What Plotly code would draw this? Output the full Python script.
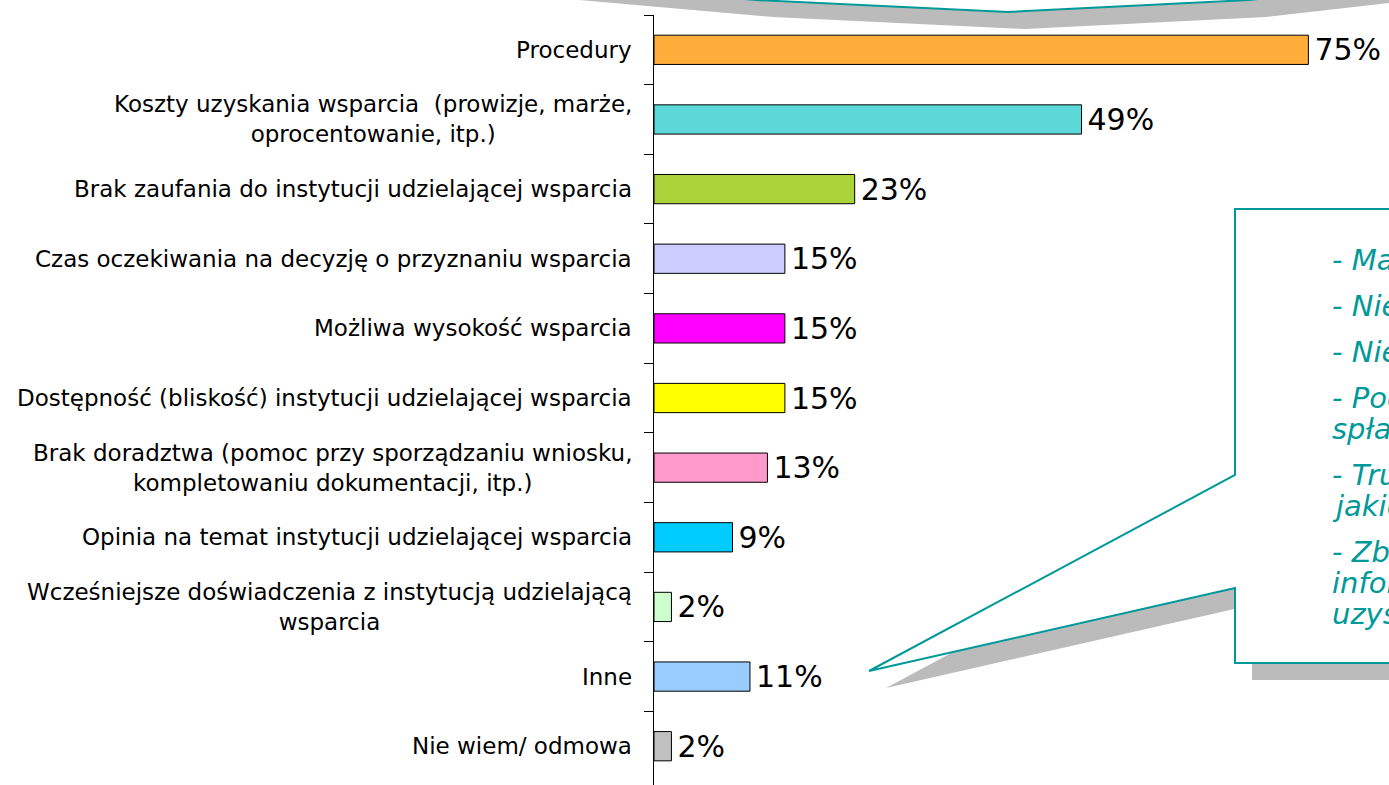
import plotly.graph_objects as go

categories = [
    "Procedury",
    "Koszty uzyskania wsparcia  (prowizje, marże,<br>oprocentowanie, itp.)",
    "Brak zaufania do instytucji udzielającej wsparcia",
    "Czas oczekiwania na decyzję o przyznaniu wsparcia",
    "Możliwa wysokość wsparcia",
    "Dostępność (bliskość) instytucji udzielającej wsparcia",
    "Brak doradztwa (pomoc przy sporządzaniu wniosku,<br>kompletowaniu dokumentacji, itp.)",
    "Opinia na temat instytucji udzielającej wsparcia",
    "Wcześniejsze doświadczenia z instytucją udzielającą<br>wsparcia",
    "Inne",
    "Nie wiem/ odmowa",
]
values = [75, 49, 23, 15, 15, 15, 13, 9, 2, 11, 2]
colors = ["#FFAD3A", "#5DD8D8", "#AAD43A", "#CCCCFF", "#FF00FF", "#FFFF00",
          "#FF99CC", "#00CCFF", "#CCFFCC", "#99CCFF", "#C0C0C0"]

callout_lines = [
    "- Mało korzystne warunki",
    "- Niechęć do zadłużania się",
    "- Nieznajomość ofert",
    "- Poczucie ryzyka",
    "spłaty",
    "- Trudność w ocenie,",
    "jakie",
    "- Zbyt mało",
    "informacji o",
    "uzyskaniu",
]
callout_y_px = [260, 306, 352, 398, 429, 475, 506, 552, 583, 614]

W, H = 1389, 785
L, R, T, B = 654, 37, 15, 0
PW, PH = W - L - R, H - T - B

def px(x):
    return (x - L) / PW

def py(y):
    return 1 - (y - T) / PH

def path(points):
    return "M " + " L ".join(f"{px(x):.5f},{py(y):.5f}" for x, y in points) + " Z"

ypos = list(range(len(categories)))
fig = go.Figure(go.Bar(
    y=ypos, x=values, orientation="h", width=0.42,
    marker=dict(color=colors, line=dict(color="black", width=1)),
    text=["\u200a" + f"{v}%" for v in values], textposition="outside",
    textfont=dict(family="DejaVu Sans", size=30, color="black"),
    cliponaxis=False, constraintext="none", hoverinfo="skip",
))

teal = "#00999A"
shadow = "#BBBBBB"
d = 17
callout = [(1420, 209), (1235, 209), (1235, 475), (869, 671), (1235, 588), (1235, 663), (1420, 663)]
top_shape = [(300, -40), (756, 0), (1008, 12), (1249, 0), (1600, -40)]
shapes = [
    dict(type="path", xref="paper", yref="paper", path=path([(x + d, y + d) for x, y in top_shape]),
         fillcolor=shadow, line=dict(width=0), layer="above"),
    dict(type="path", xref="paper", yref="paper", path=path(top_shape),
         fillcolor="white", line=dict(color=teal, width=2), layer="above"),
    dict(type="path", xref="paper", yref="paper", path=path([(x + d, y + d) for x, y in callout]),
         fillcolor=shadow, line=dict(width=0), layer="above"),
    dict(type="path", xref="paper", yref="paper", path=path(callout),
         fillcolor="white", line=dict(color=teal, width=2), layer="above"),
]

annotations = []
for i, c in enumerate(categories):
    annotations.append(dict(
        x=0, y=i, xref="x", yref="y", text=c, showarrow=False,
        xanchor="right", yanchor="middle", align="center", xshift=-20,
        font=dict(family="DejaVu Sans", size=23, color="black"),
    ))
for t, yy in zip(callout_lines, callout_y_px):
    annotations.append(dict(
        x=px(1330), y=py(yy), xref="paper", yref="paper", text=f"<i>{t}</i>",
        showarrow=False, xanchor="left", yanchor="middle", align="left",
        font=dict(family="DejaVu Sans", size=29, color=teal),
    ))

fig.update_layout(
    width=W, height=H, margin=dict(l=L, r=R, t=T, b=B, pad=0),
    paper_bgcolor="white", plot_bgcolor="white", showlegend=False,
    xaxis=dict(range=[0, 80], visible=False, fixedrange=True),
    yaxis=dict(range=[10.557, -0.5], showline=True, linecolor="black", linewidth=1,
               showticklabels=False, ticks="", showgrid=False, zeroline=False,
               fixedrange=True,
               minor=dict(tickvals=[k - 0.5 for k in range(11)], ticks="outside",
                          ticklen=9, tickcolor="black", tickwidth=1, showgrid=False)),
    shapes=shapes, annotations=annotations,
)
fig.write_html("out.html", config={"displayModeBar": False},
               post_script="document.body.style.margin='0';document.body.style.overflow='hidden';")
